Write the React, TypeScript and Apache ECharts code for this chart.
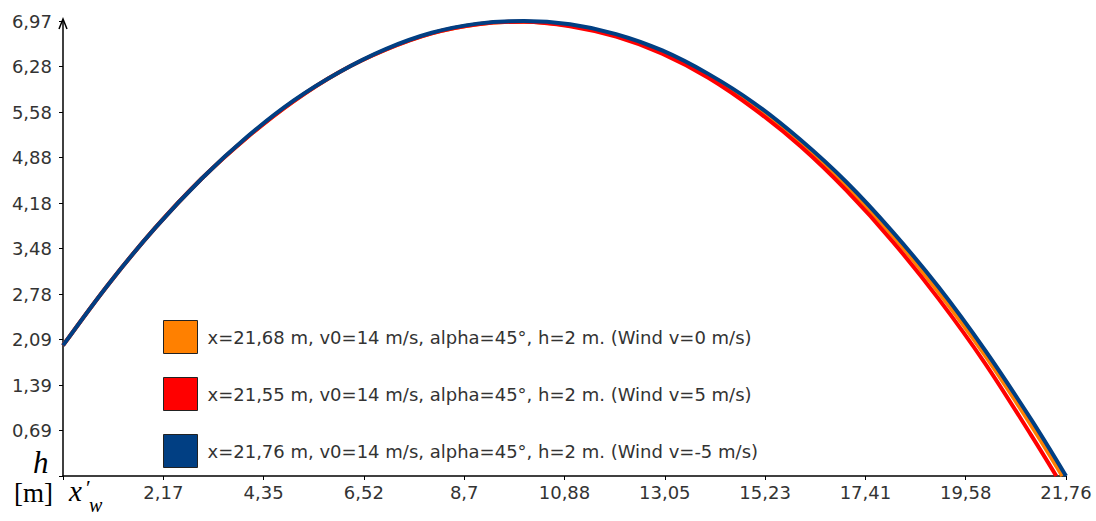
import React, { useEffect, useRef } from "react";
import * as echarts from "echarts";

// x positions (m) shared by the three trajectories, plus each landing point
const xSteps = [0, 1, 2, 3, 4, 5, 6, 7, 8, 9, 10, 11, 12, 13, 14, 15, 16, 17, 18, 19, 20, 21];
const landing = [21.68, 21.55, 21.76];

// heights (m)
const hWind0 = [2, 2.95, 3.8, 4.55, 5.19, 5.74, 6.19, 6.53, 6.78, 6.92, 6.96, 6.9, 6.75, 6.49, 6.13, 5.66, 5.1, 4.44, 3.68, 2.81, 1.85, 0.78, 0];
const hWind5 = [2, 2.95, 3.8, 4.55, 5.19, 5.74, 6.19, 6.53, 6.78, 6.92, 6.96, 6.89, 6.73, 6.47, 6.1, 5.62, 5.05, 4.37, 3.59, 2.71, 1.73, 0.63, 0];
const hWindM5 = [2, 2.95, 3.8, 4.55, 5.2, 5.75, 6.19, 6.54, 6.79, 6.93, 6.97, 6.92, 6.77, 6.52, 6.16, 5.71, 5.15, 4.5, 3.74, 2.89, 1.93, 0.87, 0];

const seriesNames = [
  "x=21,68 m, v0=14 m/s, alpha=45°, h=2 m. (Wind v=0 m/s)",
  "x=21,55 m, v0=14 m/s, alpha=45°, h=2 m. (Wind v=5 m/s)",
  "x=21,76 m, v0=14 m/s, alpha=45°, h=2 m. (Wind v=-5 m/s)",
];
const seriesColors = ["#FF8000", "#FF0000", "#013F83"];

const xTickLabels = ["2,17", "4,35", "6,52", "8,7", "10,88", "13,05", "15,23", "17,41", "19,58", "21,76"];
const yTickLabels = ["0,69", "1,39", "2,09", "2,78", "3,48", "4,18", "4,88", "5,58", "6,28", "6,97"];
const xMax = 21.76;
const yMax = 6.97;

export default function App() {
  const ref = useRef<HTMLDivElement>(null);
  useEffect(() => {
    if (!ref.current) return;
    const chart = echarts.init(ref.current, undefined, { renderer: "svg" });
    const heights = [hWind0, hWind5, hWindM5];
    const series = heights.map((hs, si) => ({
      name: seriesNames[si],
      type: "line",
      color: seriesColors[si],
      showSymbol: false,
      smooth: 0.35,
      lineStyle: { width: 4, color: seriesColors[si] },
      data: hs.map((h, i) => [i < xSteps.length ? xSteps[i] : landing[si], h]),
    }));
    const xInt = xMax / 10;
    const yInt = yMax / 10;
    const serif = "'Liberation Serif'";
    chart.setOption({
      animation: false,
      backgroundColor: "#ffffff",
      grid: { left: 63, right: 30, top: 21, bottom: 45 },
      legend: {
        orient: "vertical",
        left: 158,
        top: 315,
        itemWidth: 34,
        itemHeight: 33,
        itemGap: 23,
        icon: "rect",
        itemStyle: { borderColor: "#222", borderWidth: 1 },
        textStyle: { fontFamily: "DejaVu Sans", fontSize: 18, color: "#333", padding: [0, 0, 0, 5] },
        data: seriesNames,
      },
      xAxis: {
        type: "value",
        min: 0,
        max: xMax,
        interval: xInt,
        splitLine: { show: false },
        axisLine: { show: true, onZero: false, lineStyle: { color: "#000", width: 1.5 } },
        axisTick: { show: true, length: 4, lineStyle: { color: "#000" } },
        axisLabel: {
          margin: 7,
          fontFamily: "DejaVu Sans",
          fontSize: 18,
          color: "#333",
          showMaxLabel: true,
          formatter: (v: number) => {
            const i = Math.round(v / xInt);
            return i === 0 ? "" : xTickLabels[i - 1] ?? "";
          },
        },
      },
      yAxis: {
        type: "value",
        min: 0,
        max: yMax,
        interval: yInt,
        splitLine: { show: false },
        axisLine: { show: true, lineStyle: { color: "#000", width: 1.5 } },
        axisTick: { show: true, length: 4, lineStyle: { color: "#000" } },
        axisLabel: {
          margin: 11,
          fontFamily: "DejaVu Sans",
          fontSize: 18,
          color: "#333",
          showMaxLabel: true,
          formatter: (v: number) => {
            const i = Math.round(v / yInt);
            return i === 0 ? "" : yTickLabels[i - 1] ?? "";
          },
        },
      },
      graphic: [
        {
          type: "polyline",
          shape: { points: [[59, 29], [63, 19], [67, 29]] },
          style: { stroke: "#000", lineWidth: 1.5, fill: "none" },
        },
        {
          type: "text",
          style: { x: 33, y: 462, text: "h", font: `italic 31px ${serif}`, fill: "#000", verticalAlign: "middle", align: "left" },
        },
        {
          type: "text",
          style: { x: 14, y: 493, text: "[m]", font: `27px ${serif}`, fill: "#000", verticalAlign: "middle", align: "left" },
        },
        {
          type: "text",
          style: { x: 69, y: 491, text: "x", font: `italic 29px ${serif}`, fill: "#000", verticalAlign: "middle", align: "left" },
        },
        {
          type: "text",
          style: { x: 86, y: 487, text: "′", font: `22px ${serif}`, fill: "#000", verticalAlign: "middle", align: "left" },
        },
        {
          type: "text",
          style: { x: 89, y: 505, text: "w", font: `italic 20px ${serif}`, fill: "#000", verticalAlign: "middle", align: "left" },
        },
      ],
      series,
    });
    return () => chart.dispose();
  }, []);
  return <div ref={ref} style={{ position: "fixed", left: 0, top: 0, width: 1096, height: 521 }} />;
}
